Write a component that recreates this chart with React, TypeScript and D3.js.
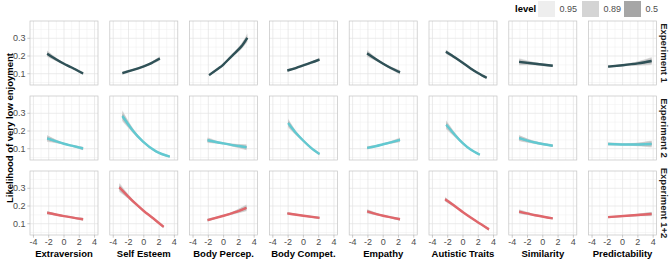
import React from "react";
import * as d3 from "d3";

const predictors = ["Extraversion", "Self Esteem", "Body Percep.", "Body Compet.", "Empathy", "Autistic Traits", "Similarity", "Predictability"];
const experiments = ["Experiment 1", "Experiment 2", "Experiment 1+2"];
const lineColors = ["#2F5157", "#62C9D1", "#E0666B"];
const levels = ["0.95", "0.89", "0.5"];
const levelZ = [1.96, 1.598, 0.674];
const levelFills = ["#EEEEEE", "#D4D4D4", "#A6A6A6"];
const ribbonFills = ["#DADADA", "#C2C2C2", "#9C9C9C"];
const xTicks = [-4, -2, 0, 2, 4];
const xMinor = [-3, -1, 1, 3];
const yTicks = [0.1, 0.2, 0.3];
const yMinor = [0.05, 0.15, 0.25, 0.35];

// Experiment 1: x values, fitted probability, 95% half-width
const exp1X = [
  [-2.2, -1, 0, 1, 2.5],
  [-2.8, -1.5, 0, 1, 2.1],
  [-1.9, -0.6, 0, 1.2, 2.3, 3.1],
  [-2.1, -1, 0, 1, 2.1],
  [-2.1, -1, 0, 1, 2.2],
  [-2.24, -1, 0, 1, 2, 3.1],
  [-3.1, -1, 1.3],
  [-1.9, 0, 2, 3.8],
];
const exp1Y = [
  [0.213, 0.18, 0.156, 0.135, 0.101],
  [0.103, 0.12, 0.142, 0.16, 0.186],
  [0.092, 0.132, 0.153, 0.205, 0.253, 0.303],
  [0.118, 0.132, 0.147, 0.162, 0.18],
  [0.215, 0.183, 0.156, 0.132, 0.108],
  [0.224, 0.19, 0.16, 0.13, 0.103, 0.077],
  [0.167, 0.156, 0.145],
  [0.14, 0.148, 0.158, 0.172],
];
const exp1W = [
  [0.018, 0.01, 0.006, 0.006, 0.009],
  [0.01, 0.006, 0.005, 0.008, 0.013],
  [0.008, 0.006, 0.006, 0.01, 0.016, 0.026],
  [0.009, 0.006, 0.005, 0.006, 0.01],
  [0.02, 0.01, 0.006, 0.008, 0.013],
  [0.013, 0.008, 0.005, 0.005, 0.006, 0.009],
  [0.02, 0.009, 0.008],
  [0.008, 0.006, 0.013, 0.023],
];

// Experiment 2
const exp2X = [
  [-2.2, -1, 0, 1, 2.5],
  [-2.8, -1.5, -0.1, 1.6, 3.4],
  [-2.1, -1, 0, 1, 2, 3],
  [-2.0, -1, 0, 1, 2.1],
  [-2.1, -1, 0, 1, 2.2],
  [-2.2, -1, 0, 1, 2.2],
  [-3.1, -1, 1.3],
  [-1.9, 1, 3.8],
];
const exp2Y = [
  [0.158, 0.141, 0.128, 0.117, 0.101],
  [0.285, 0.206, 0.14, 0.085, 0.055],
  [0.148, 0.138, 0.13, 0.122, 0.115, 0.108],
  [0.245, 0.19, 0.145, 0.105, 0.07],
  [0.105, 0.114, 0.125, 0.136, 0.15],
  [0.235, 0.175, 0.13, 0.095, 0.066],
  [0.16, 0.135, 0.117],
  [0.127, 0.124, 0.127],
];
const exp2W = [
  [0.02, 0.01, 0.006, 0.006, 0.01],
  [0.032, 0.015, 0.008, 0.006, 0.005],
  [0.016, 0.009, 0.006, 0.008, 0.012, 0.017],
  [0.026, 0.013, 0.008, 0.008, 0.008],
  [0.01, 0.006, 0.005, 0.008, 0.013],
  [0.026, 0.013, 0.008, 0.006, 0.006],
  [0.018, 0.009, 0.008],
  [0.009, 0.008, 0.02],
];

// Experiment 1+2
const exp3X = [
  [-2.2, 0, 2.5],
  [-3.2, -2, -1, 0, 1, 2.6],
  [-2.1, 0, 1.5, 3.0],
  [-2.1, 0, 2.1],
  [-2.1, -1, 0, 1, 2.2],
  [-2.35, -1, 0, 1.7, 3.4],
  [-3.1, -1, 1.3],
  [-1.9, 1, 3.8],
];
const exp3Y = [
  [0.162, 0.143, 0.125],
  [0.305, 0.252, 0.21, 0.172, 0.138, 0.082],
  [0.12, 0.145, 0.165, 0.19],
  [0.158, 0.145, 0.133],
  [0.17, 0.156, 0.145, 0.136, 0.125],
  [0.238, 0.197, 0.165, 0.115, 0.068],
  [0.168, 0.148, 0.13],
  [0.137, 0.146, 0.155],
];
const exp3W = [
  [0.01, 0.005, 0.008],
  [0.026, 0.013, 0.008, 0.006, 0.006, 0.008],
  [0.009, 0.005, 0.01, 0.02],
  [0.008, 0.005, 0.008],
  [0.013, 0.008, 0.005, 0.006, 0.009],
  [0.013, 0.008, 0.005, 0.005, 0.008],
  [0.013, 0.006, 0.006],
  [0.006, 0.006, 0.013],
];

const allX = [exp1X, exp2X, exp3X];
const allY = [exp1Y, exp2Y, exp3Y];
const allW = [exp1W, exp2W, exp3W];

const W = 669;
const H = 260;
const PX0 = 30;
const PITCH_X = 79.8;
const PW = 68;
const PY0 = 21;
const PITCH_Y = 75;
const PH = 64;
const X_DOMAIN: [number, number] = [-4.45, 4.45];
const Y_DOMAIN: [number, number] = [0.0362, 0.3977];
const FONT = "Liberation Sans, Arial, Helvetica, sans-serif";

function Panel({ r, c }: { r: number; c: number }) {
  const left = PX0 + c * PITCH_X;
  const top = PY0 + r * PITCH_Y;
  const x = d3.scaleLinear().domain(X_DOMAIN).range([left, left + PW]);
  const y = d3.scaleLinear().domain(Y_DOMAIN).range([top + PH, top]);
  const xs = allX[r][c];
  const ys = allY[r][c];
  const ws = allW[r][c];
  const pts = xs.map((xv, i) => ({ x: xv, y: ys[i], w: ws[i] }));
  const line = d3
    .line<{ x: number; y: number }>()
    .x((d) => x(d.x))
    .y((d) => y(d.y))
    .curve(d3.curveNatural);
  return (
    <g>
      {xMinor.map((t) => (
        <line key={"xm" + t} x1={x(t)} x2={x(t)} y1={top} y2={top + PH} stroke="#EFEFEF" strokeWidth={0.5} />
      ))}
      {yMinor.map((t) => (
        <line key={"ym" + t} x1={left} x2={left + PW} y1={y(t)} y2={y(t)} stroke="#EFEFEF" strokeWidth={0.5} />
      ))}
      {xTicks.map((t) => (
        <line key={"xM" + t} x1={x(t)} x2={x(t)} y1={top} y2={top + PH} stroke="#E2E2E2" strokeWidth={0.7} />
      ))}
      {yTicks.map((t) => (
        <line key={"yM" + t} x1={left} x2={left + PW} y1={y(t)} y2={y(t)} stroke="#E2E2E2" strokeWidth={0.7} />
      ))}
      {levelZ.map((z, li) => {
        const area = d3
          .area<{ x: number; y: number; w: number }>()
          .x((d) => x(d.x))
          .y0((d) => y(d.y - (d.w * z) / 1.96))
          .y1((d) => y(d.y + (d.w * z) / 1.96))
          .curve(d3.curveNatural);
        return <path key={"rib" + li} d={area(pts) || ""} fill={ribbonFills[li]} fillOpacity={0.8} />;
      })}
      <path d={line(pts) || ""} fill="none" stroke={lineColors[r]} strokeWidth={2.4} />
      <rect x={left} y={top} width={PW} height={PH} fill="none" stroke="#C4C4C4" strokeWidth={0.7} />
      {c === 0 &&
        yTicks.map((t) => (
          <g key={"yt" + t}>
            <line x1={left - 2.7} x2={left} y1={y(t)} y2={y(t)} stroke="#B3B3B3" strokeWidth={0.7} />
            <text x={left - 4.5} y={y(t)} dy="0.35em" textAnchor="end" fontSize={9} fill="#4D4D4D" fontFamily={FONT}>
              {t.toFixed(1)}
            </text>
          </g>
        ))}
      {r === 2 &&
        xTicks.map((t) => (
          <g key={"xt" + t}>
            <line x1={x(t)} x2={x(t)} y1={top + PH} y2={top + PH + 2.7} stroke="#B3B3B3" strokeWidth={0.7} />
            <text x={x(t)} y={top + PH + 10} textAnchor="middle" fontSize={9} fill="#4D4D4D" fontFamily={FONT}>
              {t < 0 ? "-" + Math.abs(t) : String(t)}
            </text>
          </g>
        ))}
      {r === 2 && (
        <text x={left + PW / 2} y={top + PH + 21.5} textAnchor="middle" fontSize={9.5} fontWeight="bold" fill="#000" fontFamily={FONT}>
          {predictors[c]}
        </text>
      )}
      {c === 7 && (
        <text
          transform={`translate(${left + PW + 7.5},${top + PH / 2}) rotate(90)`}
          textAnchor="middle"
          dy="0.35em"
          fontSize={9.5}
          fontWeight="bold"
          fill="#1A1A1A"
          fontFamily={FONT}
        >
          {experiments[r]}
        </text>
      )}
    </g>
  );
}

export default function App() {
  const cells: { r: number; c: number }[] = [];
  experiments.forEach((_, r) => predictors.forEach((_, c) => cells.push({ r, c })));
  const legendKeyX = [538, 582, 624];
  return (
    <svg width={W} height={H} style={{ position: "absolute", left: 0, top: 0, background: "#fff" }} fontFamily={FONT}>
      <rect width={W} height={H} fill="#fff" />
      {cells.map(({ r, c }) => (
        <Panel key={r + "-" + c} r={r} c={c} />
      ))}
      <text
        transform={`translate(10,${PY0 + (2 * PITCH_Y + PH) / 2}) rotate(-90)`}
        textAnchor="middle"
        dy="0.35em"
        fontSize={9.5}
        fontWeight="bold"
        fill="#000"
        fontFamily={FONT}
      >
        Likelihood of very low enjoyment
      </text>
      <text x={515} y={9} dy="0.35em" fontSize={9.5} fontWeight="bold" fill="#000" fontFamily={FONT}>
        level
      </text>
      {levels.map((lv, i) => (
        <g key={lv}>
          <rect x={legendKeyX[i]} y={1} width={17} height={16} fill={levelFills[i]} />
          <text x={legendKeyX[i] + 21.5} y={9} dy="0.35em" fontSize={9} fill="#4D4D4D" fontFamily={FONT}>
            {lv}
          </text>
        </g>
      ))}
    </svg>
  );
}
